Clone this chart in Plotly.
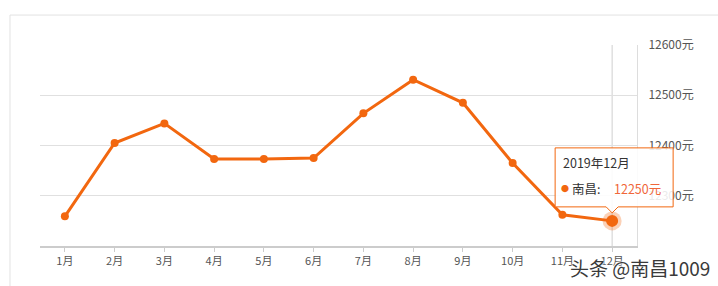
import plotly.graph_objects as go

months = ["1月", "2月", "3月", "4月", "5月", "6月", "7月", "8月", "9月", "10月", "11月", "12月"]
prices = [12259, 12405, 12444, 12373, 12373, 12375, 12464, 12531, 12485, 12365, 12262, 12250]
city = "南昌"
tip_title = "2019年12月"
y_ticks = [12300, 12400, 12500, 12600]
y_ticktext = ["12300元", "12400元", "12500元", "12600元"]
y_range = [12200, 12600]
watermark = "头条 @南昌1009"

ORANGE = "#F2670F"
FONT = "Noto Sans CJK SC, Noto Sans, sans-serif"

hi = len(months) - 1
# paper position of the highlighted point, derived from the axis ranges
hx = (hi + 0.5) / len(months)
hy = (prices[hi] - y_range[0]) / (y_range[1] - y_range[0])

fig = go.Figure()
fig.add_trace(go.Scatter(
    x=months, y=prices, mode="lines+markers",
    line=dict(color=ORANGE, width=3),
    marker=dict(color=ORANGE, size=8),
    hoverinfo="skip", showlegend=False,
))
fig.add_trace(go.Scatter(
    x=[months[hi]], y=[prices[hi]], mode="markers",
    marker=dict(color="rgba(242,103,15,0.3)", size=19),
    hoverinfo="skip", showlegend=False,
))
fig.add_trace(go.Scatter(
    x=[months[hi]], y=[prices[hi]], mode="markers",
    marker=dict(color=ORANGE, size=12),
    hoverinfo="skip", showlegend=False,
))

shapes = [
    # card border
    dict(type="rect", xref="paper", yref="paper", x0=-0.0503, x1=1.3, y0=-0.4, y1=1.149,
         line=dict(color="#e2e2e2", width=1), fillcolor="rgba(0,0,0,0)", layer="below"),
    # crosshair
    dict(type="line", xref="x", yref="paper", x0=months[hi], x1=months[hi], y0=0, y1=1,
         line=dict(color="#cfcfcf", width=1), layer="below"),
    # tooltip box with pointer
    dict(type="path", xref="paper", yref="paper", xsizemode="pixel", ysizemode="pixel",
         xanchor=hx, yanchor=hy,
         path="M -57,73 L 61,73 L 61,14 L 6,14 L 0,8 L -6,14 L -57,14 Z",
         fillcolor="rgba(255,255,255,0.88)", line=dict(color=ORANGE, width=1), layer="above"),
]

annotations = [
    dict(x=hx, y=hy, xref="paper", yref="paper", text=tip_title, showarrow=False,
         xanchor="left", yanchor="middle", xshift=-51, yshift=58,
         font=dict(family=FONT, size=12.5, color="#333333")),
    dict(x=hx, y=hy, xref="paper", yref="paper", text="●", showarrow=False,
         xanchor="center", yanchor="middle", xshift=-47, yshift=32,
         font=dict(family=FONT, size=8, color=ORANGE)),
    dict(x=hx, y=hy, xref="paper", yref="paper", text=city + ":", showarrow=False,
         xanchor="left", yanchor="middle", xshift=-42, yshift=32,
         font=dict(family=FONT, size=12.5, color="#333333")),
    dict(x=hx, y=hy, xref="paper", yref="paper", text=f"{prices[hi]}元", showarrow=False,
         xanchor="left", yanchor="middle", xshift=0, yshift=32,
         font=dict(family=FONT, size=12.5, color="#F0673A")),
    dict(x=1.1256, y=-0.109, xref="paper", yref="paper", text=watermark, showarrow=False,
         xanchor="right", yanchor="middle",
         font=dict(family=FONT, size=19, color="#3a3a3a",
                   shadow="0 0 2px white, 0 0 2px white, 0 0 3px white")),
]

fig.update_layout(
    width=718, height=286,
    margin=dict(l=40, r=81, t=45, b=40),
    paper_bgcolor="white", plot_bgcolor="white",
    font=dict(family=FONT, size=11, color="#555555"),
    shapes=shapes, annotations=annotations,
    xaxis=dict(
        type="category", range=[-0.5, len(months) - 0.5],
        showgrid=False, showline=True, linecolor="#cccccc", linewidth=2,
        ticks="outside", ticklen=4, tickcolor="#cccccc", tickwidth=1,
        tickfont=dict(size=11, color="#555555"), fixedrange=True,
    ),
    yaxis=dict(
        side="right", range=y_range, tickvals=y_ticks, ticktext=y_ticktext,
        showgrid=True, gridcolor="#e0e0e0", gridwidth=1,
        showline=True, linecolor="#dddddd", linewidth=1,
        zeroline=False, ticks="", ticklabelstandoff=8,
        tickfont=dict(size=12, color="#555555"),
    ),
)

fig.write_html("out.html")
